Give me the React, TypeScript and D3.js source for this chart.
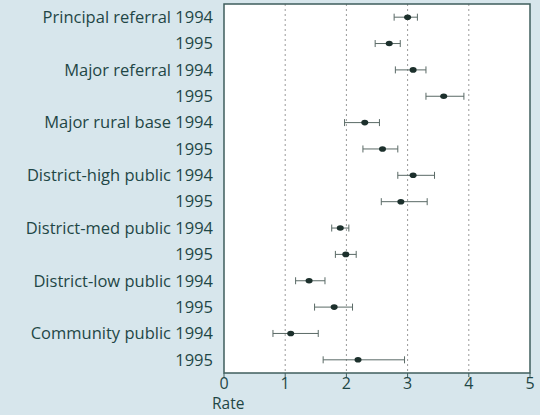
import React from "react";
import * as d3 from "d3";

const categories = [
  "Principal referral 1994", "1995",
  "Major referral 1994", "1995",
  "Major rural base 1994", "1995",
  "District-high public 1994", "1995",
  "District-med public 1994", "1995",
  "District-low public 1994", "1995",
  "Community public 1994", "1995",
];
const rates = [3.0, 2.7, 3.09, 3.59, 2.3, 2.59, 3.09, 2.89, 1.9, 1.99, 1.39, 1.8, 1.09, 2.19];
const lower = [2.78, 2.47, 2.8, 3.3, 1.97, 2.27, 2.84, 2.57, 1.76, 1.82, 1.17, 1.48, 0.8, 1.62];
const upper = [3.16, 2.88, 3.3, 3.92, 2.54, 2.84, 3.44, 3.32, 2.04, 2.16, 1.65, 2.1, 1.54, 2.95];
const xTicks = [0, 1, 2, 3, 4, 5];
const gridTicks = [1, 2, 3, 4];
const xTitle = "Rate";

const W = 540, H = 415;
const L = 224, R = 530, T = 4, B = 373;
const textColor = "#1f4646";
const font = "'Open Sans', sans-serif";

export default function App() {
  const x = d3.scaleLinear().domain([0, 5]).range([L, R]);
  const idx = categories.map((_, i) => String(i));
  const y = d3.scaleBand().domain(idx).range([T, B]).padding(0);
  const cy = (i: number) => (y(String(i)) as number) + y.bandwidth() / 2;
  return (
    <svg width={W} height={H} style={{ position: "absolute", left: 0, top: 0, display: "block" }}>
      <rect x={0} y={0} width={W} height={H} fill="#d7e6ec" />
      <rect x={L} y={T} width={R - L} height={B - T} fill="#ffffff" />
      {gridTicks.map((t) => (
        <line key={t} x1={x(t)} x2={x(t)} y1={T} y2={B} stroke="#9a9a9a" strokeWidth={1} strokeDasharray="2,3" />
      ))}
      {categories.map((c, i) => (
        <g key={i}>
          <line x1={x(lower[i])} x2={x(upper[i])} y1={cy(i)} y2={cy(i)} stroke="#5a6a66" strokeWidth={1} />
          <line x1={x(lower[i])} x2={x(lower[i])} y1={cy(i) - 3.5} y2={cy(i) + 3.5} stroke="#5a6a66" strokeWidth={1} />
          <line x1={x(upper[i])} x2={x(upper[i])} y1={cy(i) - 3.5} y2={cy(i) + 3.5} stroke="#5a6a66" strokeWidth={1} />
          <ellipse cx={x(rates[i])} cy={cy(i)} rx={3.5} ry={2.8} fill="#1c302c" />
          <text x={213} y={cy(i)} dy="0.35em" textAnchor="end" fontFamily={font} fontWeight={500} fontSize={16.5} fill={textColor}>
            {c}
          </text>
        </g>
      ))}
      <rect x={L} y={T} width={R - L} height={B - T} fill="none" stroke="#3f5e5c" strokeWidth={1.5} />
      {xTicks.map((t) => (
        <g key={t}>
          <line x1={x(t)} x2={x(t)} y1={B} y2={B + 4} stroke="#3f5e5c" strokeWidth={1} />
          <text x={x(t)} y={389} textAnchor="middle" fontFamily={font} fontWeight={500} fontSize={16} fill={textColor}>
            {t}
          </text>
        </g>
      ))}
      <text x={212} y={409} fontFamily={font} fontWeight={500} fontSize={15.5} fill={textColor}>
        {xTitle}
      </text>
    </svg>
  );
}
